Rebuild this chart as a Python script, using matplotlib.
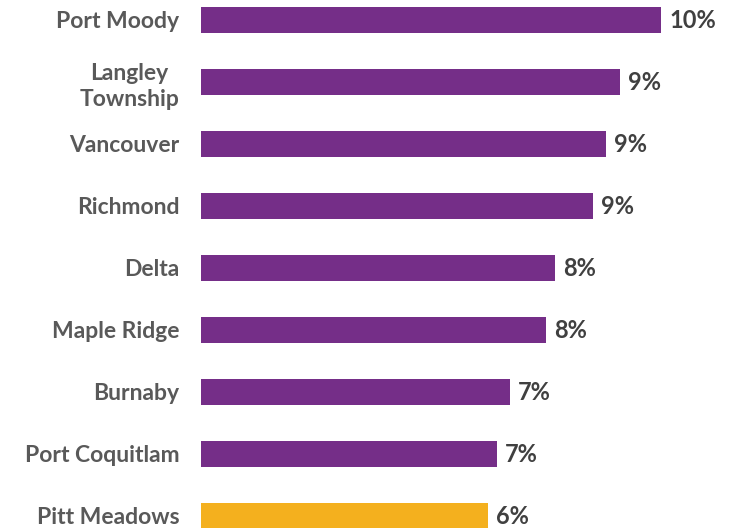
import matplotlib
matplotlib.use("Agg")
import matplotlib.pyplot as plt

# Share of households by municipality (%)
municipalities = [
    "Port Moody", "Langley\nTownship", "Vancouver", "Richmond", "Delta",
    "Maple Ridge", "Burnaby", "Port Coquitlam", "Pitt Meadows",
]
shares = [10.23, 9.31, 8.99, 8.71, 7.87, 7.67, 6.86, 6.57, 6.37]
highlight = "Pitt Meadows"

PURPLE = "#752E88"
GOLD = "#F4B01E"
LABEL_GREY = "#595959"
VALUE_GREY = "#404040"

plt.rcParams["font.family"] = ["Lato", "DejaVu Sans"]

W, H, DPI = 729, 528, 100
fig = plt.figure(figsize=(W / DPI, H / DPI), dpi=DPI)
left_px = 201
ax = fig.add_axes([left_px / W, 0, (W - left_px) / W, 1])

colors = [GOLD if m == highlight else PURPLE for m in municipalities]
ypos = list(range(len(municipalities)))
ax.barh(ypos, shares, height=0.42, color=colors)

for y, v in zip(ypos, shares):
    ax.text(v + 0.18, y, f"{v:.0f}%", va="center", ha="left",
            fontsize=17, fontweight="bold", color=VALUE_GREY, clip_on=False)

ax.set_yticks(ypos)
ax.set_yticklabels(municipalities, fontsize=16.5, fontweight="bold",
                   color=LABEL_GREY, multialignment="center",
                   linespacing=1.3)
ax.tick_params(axis="y", length=0, pad=15.5)
ax.tick_params(axis="x", bottom=False, labelbottom=False)

ax.set_xlim(0, (W - left_px) / 45)
ax.set_ylim(508 / 62, -20 / 62)
for s in ax.spines.values():
    s.set_visible(False)

fig.savefig("out.png", dpi=DPI, facecolor="white")
